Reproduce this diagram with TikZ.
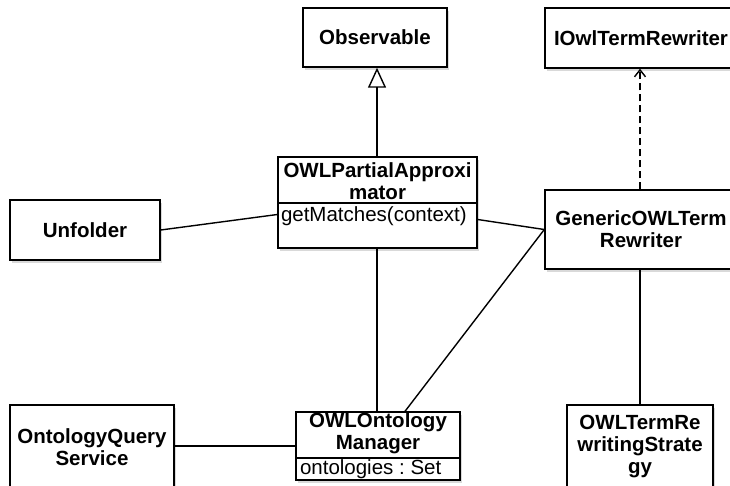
\documentclass[tikz,border=0pt]{standalone}
\usepackage{fontspec}
\setmainfont{Liberation Sans}
\usetikzlibrary{arrows.meta,shadows}

\begin{document}
\begin{tikzpicture}[x=1pt,y=-1pt,line width=1.4pt,
  cls/.style={draw, fill=white, align=center,
    drop shadow={shadow xshift=2pt, shadow yshift=-3pt, opacity=0.3},
    font=\bfseries\fontsize{20.5}{22}\selectfont},
  title/.style={align=center, inner sep=0pt, font=\bfseries\fontsize{20.5}{22}\selectfont},
  attr/.style={inner sep=3pt, font=\frenchspacing\fontsize{20.5}{22}\selectfont}]
  \useasboundingbox (0,0) rectangle (730,485);
  \clip (0,0) rectangle (730,485);
  \node[cls, minimum width=144pt, minimum height=59pt] (obs) at (375,37.5) {Observable};
  \node[cls, minimum width=192pt, minimum height=60pt] (iow) at (641,38) {IOwlTermRewriter};
  \node[cls, minimum width=150pt, minimum height=60pt] (unf) at (85,230) {Unfolder};
  \node[cls, minimum width=192pt, minimum height=79pt] (gen) at (641,229.5) {GenericOWLTerm\\Rewriter};
  \node[cls, minimum width=164pt, minimum height=84pt] (oqs) at (92,447) {OntologyQuery\\Service};
  \node[cls, minimum width=146pt, minimum height=84pt] (str) at (640,447) {OWLTermRe\\writingStrate\\gy};
  % class with operation
  \node[cls, minimum width=199pt, minimum height=91pt] (pa) at (377.5,202.5) {};
  \node[title] (pat) at (377.5,181) {OWLPartialApproxi\\mator};
  \draw (pa.west |- 0,203) -- (pa.east |- 0,203);
  \node[attr, anchor=north west] (pam) at (pa.west |- 0,203) {getMatches(context)};
  % class with attribute
  \node[cls, minimum width=164pt, minimum height=68pt] (mgr) at (378,446) {};
  \node[title] (mgrt) at (378,433.5) {OWLOntology\\Manager};
  \draw (mgr.west |- 0,458) -- (mgr.east |- 0,458);
  \node[attr, anchor=north west, inner ysep=0.5pt, inner xsep=4pt] (mgra) at (mgr.west |- 0,458) {ontologies : Set};

  \draw[-{Triangle[open,width=18pt,length=20pt]}] (pa.north -| 377,0) -- (obs.south -| 377,0);
  \draw[dash pattern=on 7pt off 4pt, -{Straight Barb[length=7pt,width=11pt]}] (gen.north -| 640,0) -- (iow.south -| 640,0);
  \draw (unf.east) -- ([yshift=-12pt]pa.west);
  \draw ([yshift=-17pt]pa.east) -- (gen.west);
  \draw (pa.south -| 377,0) -- (mgr.north -| 377,0);
  \draw (gen.west) -- ([xshift=27pt]mgr.north);
  \draw (oqs.east |- mgr.west) -- (mgr.west);
  \draw (gen.south -| 640,0) -- (str.north);
\end{tikzpicture}
\end{document}
